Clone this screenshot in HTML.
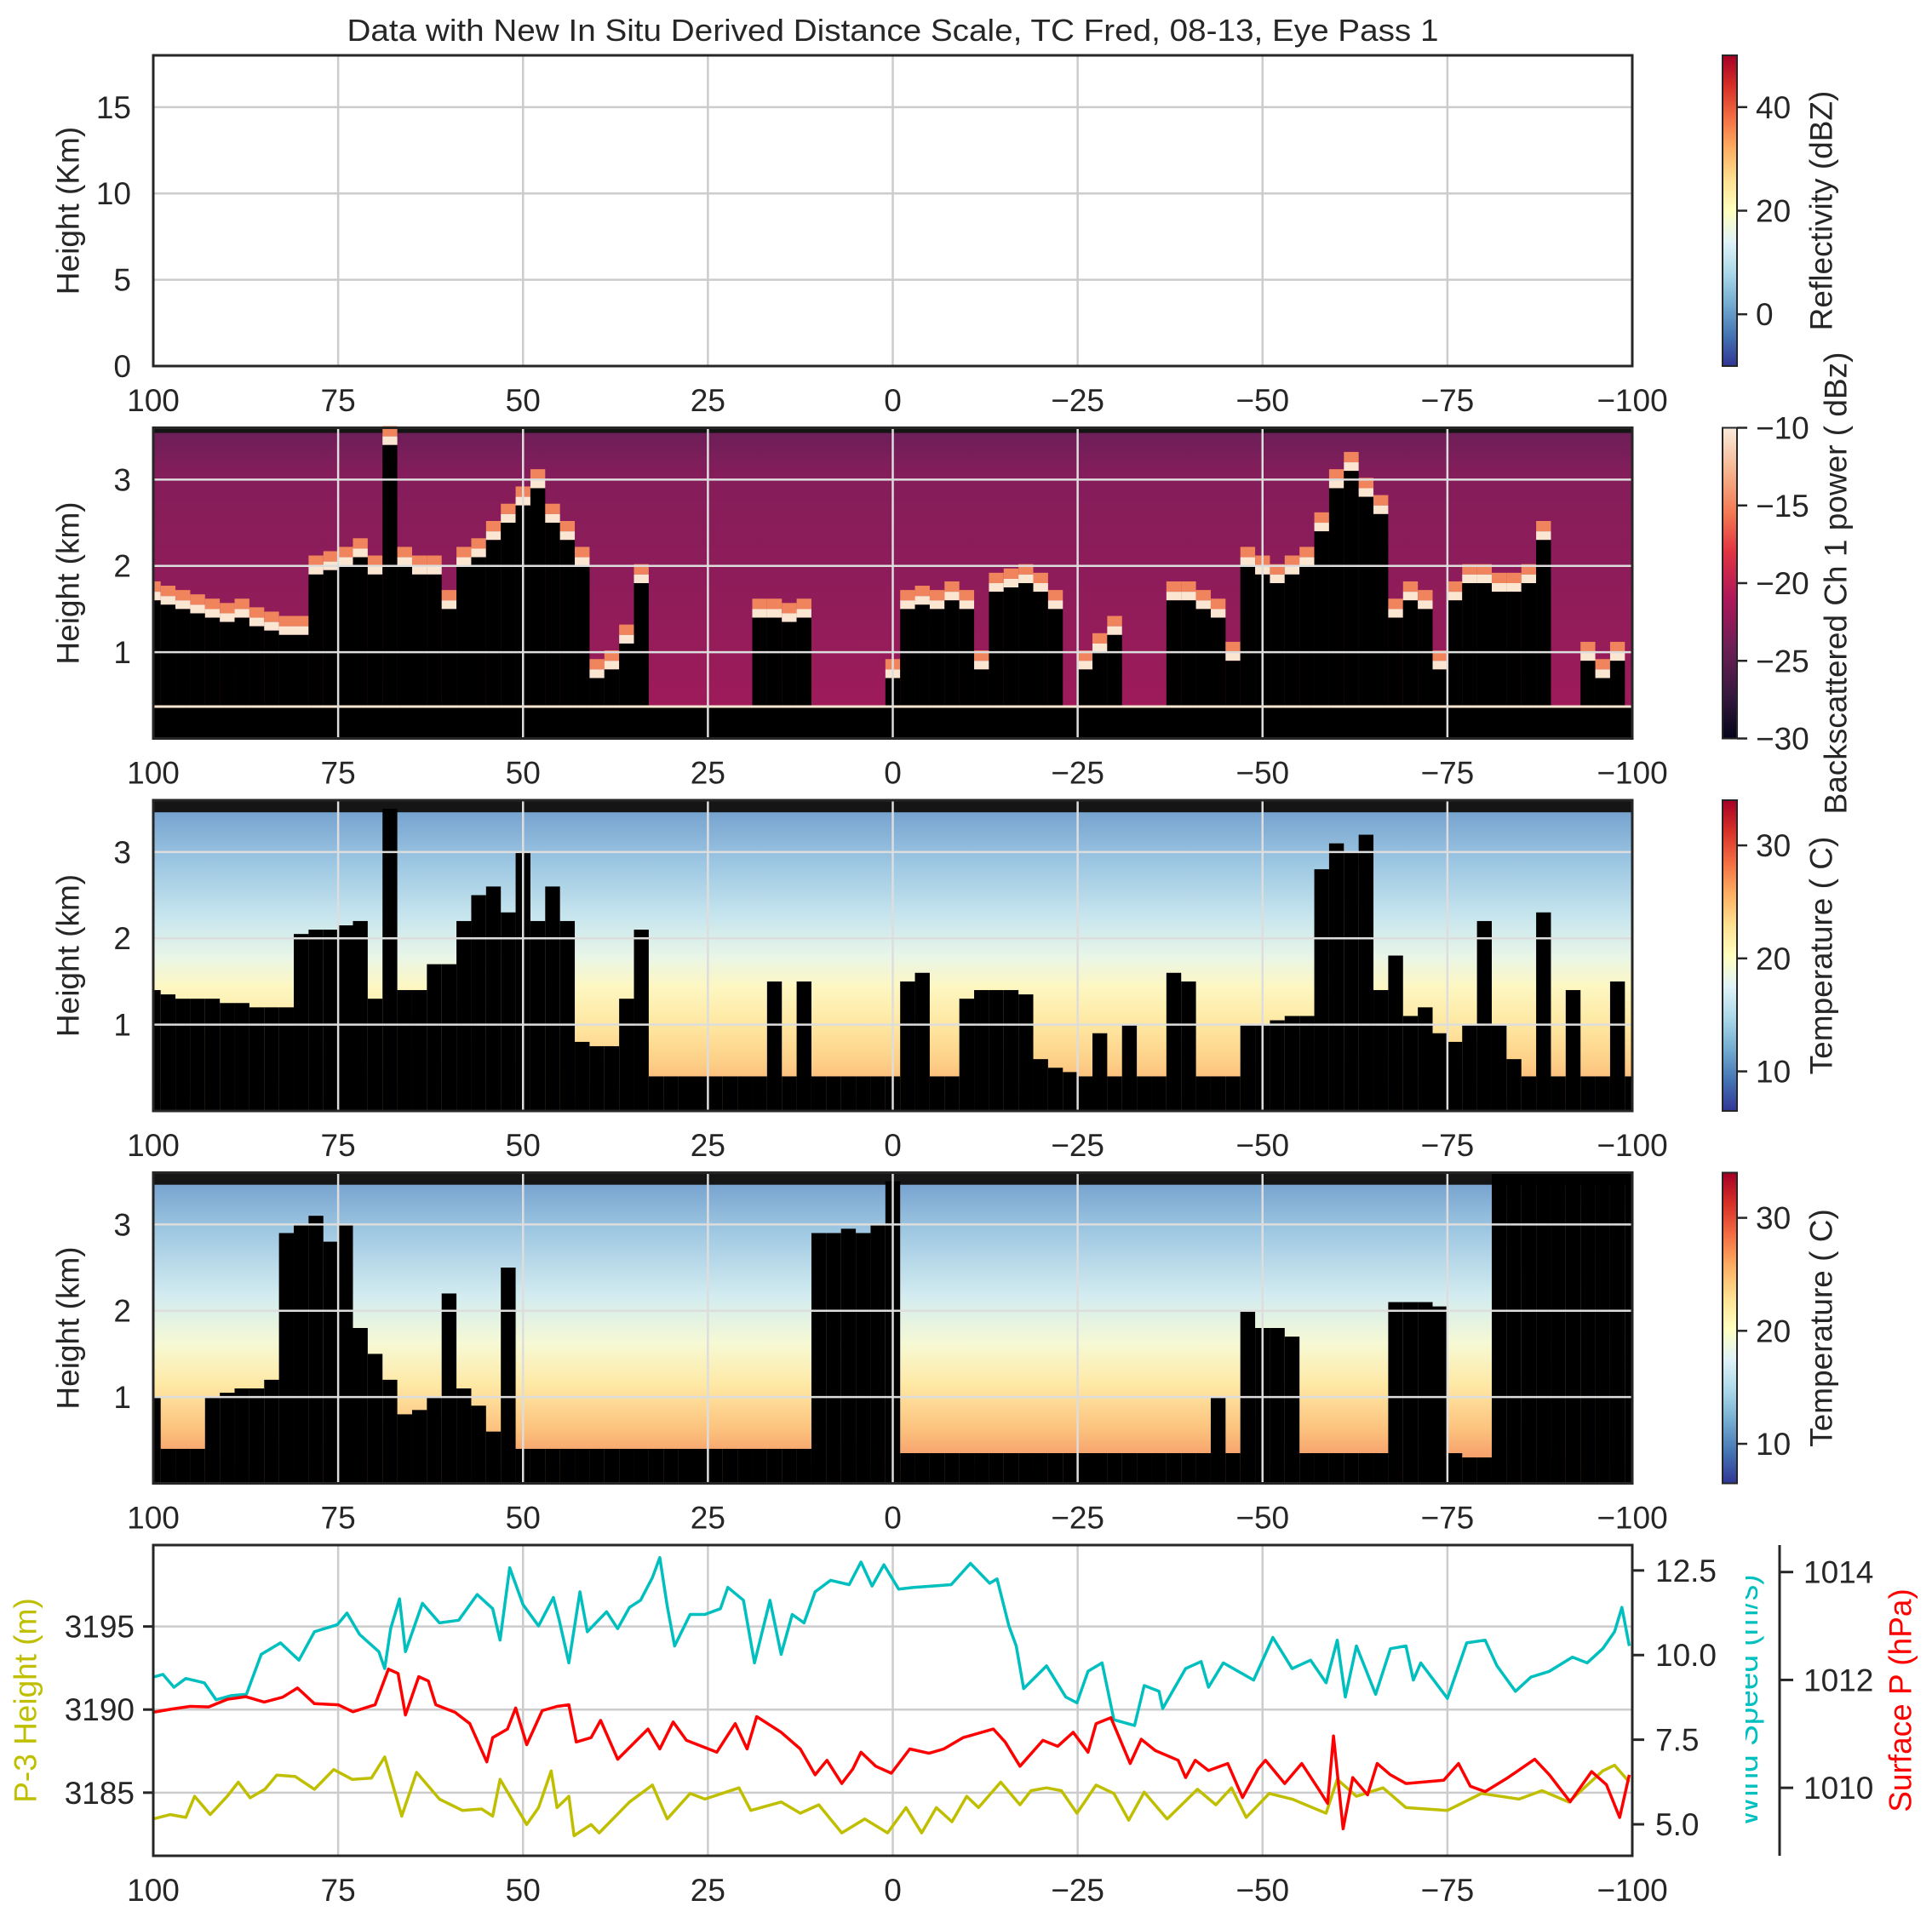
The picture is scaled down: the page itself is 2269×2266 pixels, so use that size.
<!DOCTYPE html>
<html><head><meta charset="utf-8"><style>
html,body{margin:0;padding:0;background:#fff}
svg text{font-family:"Liberation Sans",Arial,sans-serif;fill:#262626}
</style></head><body>
<svg id="fig" width="2269" height="2261" viewBox="0 0 2269 2261" xmlns="http://www.w3.org/2000/svg">
<defs>
<linearGradient id="rdylbu" x1="0" y1="1" x2="0" y2="0">
<stop offset="0" stop-color="#313695"/><stop offset="0.1" stop-color="#4575b4"/><stop offset="0.2" stop-color="#74add1"/><stop offset="0.3" stop-color="#abd9e9"/><stop offset="0.4" stop-color="#e0f3f8"/><stop offset="0.5" stop-color="#ffffbf"/><stop offset="0.6" stop-color="#fee090"/><stop offset="0.7" stop-color="#fdae61"/><stop offset="0.8" stop-color="#f46d43"/><stop offset="0.9" stop-color="#d73027"/><stop offset="1" stop-color="#a50026"/>
</linearGradient>
<linearGradient id="rocket" x1="0" y1="1" x2="0" y2="0">
<stop offset="0" stop-color="#03051a"/><stop offset="0.14" stop-color="#36193e"/><stop offset="0.3" stop-color="#701f57"/><stop offset="0.45" stop-color="#ae1759"/><stop offset="0.6" stop-color="#e13342"/><stop offset="0.72" stop-color="#f37651"/><stop offset="0.86" stop-color="#f6b48e"/><stop offset="1" stop-color="#faebdd"/>
</linearGradient>
<linearGradient id="bg2" x1="0" y1="0" x2="0" y2="1">
<stop offset="0" stop-color="#6a1f58"/><stop offset="0.15" stop-color="#841d5a"/><stop offset="0.6" stop-color="#921c5a"/><stop offset="1" stop-color="#a21a5b"/>
</linearGradient>
<linearGradient id="bg3" x1="0" y1="0" x2="0" y2="1">
<stop offset="0" stop-color="#6e9bcb"/><stop offset="0.2" stop-color="#9cc6e2"/><stop offset="0.38" stop-color="#c8e6ee"/><stop offset="0.5" stop-color="#e8f5e8"/><stop offset="0.6" stop-color="#fdf7c2"/><stop offset="0.72" stop-color="#fee8a2"/><stop offset="0.84" stop-color="#fdd088"/><stop offset="1" stop-color="#f8a067"/>
</linearGradient>
<linearGradient id="bg4" x1="0" y1="0" x2="0" y2="1">
<stop offset="0" stop-color="#6e9bcb"/><stop offset="0.2" stop-color="#a2cae3"/><stop offset="0.4" stop-color="#d3ecf0"/><stop offset="0.55" stop-color="#f6f9d4"/><stop offset="0.68" stop-color="#fee9a6"/><stop offset="0.82" stop-color="#fcc47f"/><stop offset="1" stop-color="#f2805a"/>
</linearGradient>
<clipPath id="windclip"><rect x="2050" y="1815" width="30" height="365"/></clipPath>
</defs>
<g id="root"></g>
</svg>
<script>
// ---------- data ----------
const distances = [];
for (let d = 100; d >= -100; d -= 2) distances.push(d);
const xTicks = [100, 75, 50, 25, 0, -25, -50, -75, -100];
const xTickLabels = ["100", "75", "50", "25", "0", "\u221225", "\u221250", "\u221275", "\u2212100"];
const lidarTops = [1.7,1.65,1.6,1.55,1.5,1.45,1.5,1.4,1.35,1.3,1.3,2.0,2.05,2.1,2.2,2.0,3.5,2.1,2.0,2.0,1.6,2.1,2.2,2.4,2.6,2.8,3.0,2.6,2.4,2.1,0.8,0.9,1.2,1.9,0,0,0,0,0,0,0,1.5,1.5,1.45,1.5,0,0,0,0,0,0.8,1.6,1.65,1.6,1.7,1.6,0.9,1.8,1.85,1.9,1.8,1.6,0,0.9,1.1,1.3,0,0,0,1.7,1.7,1.6,1.5,1.0,2.1,2.0,1.9,2.0,2.1,2.5,3.0,3.2,2.9,2.7,1.5,1.7,1.6,0.9,1.7,1.9,1.9,1.8,1.8,1.9,2.4,0,0,1.0,0.8,1.0,0];
const tempTops1 = [1.4,1.35,1.3,1.3,1.3,1.25,1.25,1.2,1.2,1.2,2.05,2.1,2.1,2.15,2.2,1.3,3.5,1.4,1.4,1.7,1.7,2.2,2.5,2.6,2.3,3.0,2.2,2.6,2.2,0.8,0.75,0.75,1.3,2.1,0.4,0.4,0.4,0.4,0.4,0.4,0.4,0.4,1.5,0.4,1.5,0.4,0.4,0.4,0.4,0.4,0.4,1.5,1.6,0.4,0.4,1.3,1.4,1.4,1.4,1.35,0.6,0.5,0.45,0.4,0.9,0.4,1.0,0.4,0.4,1.6,1.5,0.4,0.4,0.4,1.0,1.0,1.05,1.1,1.1,2.8,3.1,3.0,3.2,1.4,1.8,1.1,1.2,0.9,0.8,1.0,2.2,1.0,0.6,0.4,2.3,0.4,1.4,0.4,0.4,1.5,0.4];
const tempTops2 = [1.0,0.4,0.4,0.4,1.0,1.05,1.1,1.1,1.2,2.9,3.0,3.1,2.8,3.0,1.8,1.5,1.2,0.8,0.85,1.0,2.2,1.1,0.9,0.6,2.5,0.4,0.4,0.4,0.4,0.4,0.4,0.4,0.4,0.4,0.4,0.4,0.4,0.4,0.4,0.4,0.4,0.4,0.4,0.4,0.4,2.9,2.9,2.95,2.9,3.0,3.5,0.35,0.35,0.35,0.35,0.35,0.35,0.35,0.35,0.35,0.35,0.35,0.35,0.35,0.35,0.35,0.35,0.35,0.35,0.35,0.35,0.35,1.0,0.35,2.0,1.8,1.8,1.7,0.35,0.35,0.35,0.35,0.35,0.35,2.1,2.1,2.1,2.05,0.35,0.3,0.3,3.6,3.6,3.6,3.6,3.6,3.6,3.6,3.6,3.6,3.6];

const windDist = [100,98.7,97.2,95.6,93.1,91.5,89.5,87.4,85.4,82.8,80.3,78.2,75.1,73.8,72.1,69.5,68.7,67.9,66.7,65.9,63.6,61.3,58.7,56.2,54.1,53.1,51.8,50,47.9,45.9,45.1,43.8,42.3,41.3,38.7,37.2,35.6,34.1,32.5,31.5,30.5,29.5,27.4,25.4,23.3,22.3,20.2,18.7,16.6,15.1,13.6,12,10.5,8.4,5.9,4.3,2.8,1.2,-0.8,-2.8,-5.4,-7.9,-10.5,-13.1,-14.1,-15.7,-16.7,-17.7,-20.8,-23.4,-24.9,-26.4,-28.3,-29.9,-32.7,-34,-36,-36.5,-39.6,-41.7,-42.7,-44.7,-48.8,-51.4,-54,-56.5,-58.6,-60.1,-61.2,-62.7,-65.3,-67.3,-69.4,-70.4,-71.4,-75,-77.6,-80.1,-81.7,-84.2,-86.3,-88.8,-91.9,-93.9,-96,-97.6,-98.6,-99.6];
const windSpeed = [9.35,9.43,9.05,9.31,9.18,8.68,8.80,8.84,10.02,10.36,9.85,10.69,10.90,11.24,10.61,10.10,9.60,10.78,11.66,10.10,11.53,10.95,11.03,11.79,11.37,10.44,12.58,11.49,10.86,11.70,11.03,9.77,11.87,10.69,11.28,10.78,11.41,11.62,12.29,12.88,11.45,10.27,11.20,11.20,11.37,12.00,11.62,9.77,11.62,10.02,11.20,10.95,11.87,12.21,12.08,12.75,12.04,12.67,11.95,12.0,12.04,12.08,12.71,12.12,12.25,10.86,10.27,9.01,9.68,8.76,8.59,9.52,9.77,8.09,7.92,9.10,8.93,8.42,9.60,9.81,9.05,9.77,9.26,10.52,9.60,9.85,9.18,10.44,8.76,10.27,8.84,10.19,10.27,9.26,9.77,8.72,10.36,10.44,9.68,8.93,9.35,9.52,9.94,9.77,10.19,10.69,11.41,10.27];

const presDist = [100,97.5,95,92.5,90,87.5,85,82.5,80.5,78.2,75,73,70,68.2,66.9,65.9,64.1,62.8,61.8,59.2,57.2,54.9,54.1,52.1,51,49.5,47.4,45.4,43.8,42.8,40.8,39.5,37.2,33.1,31.5,29.7,27.9,23.8,21.3,19.7,18.4,15.1,12.5,10.5,8.9,6.9,5.4,4.3,2.3,0.2,-2.3,-4.9,-6.9,-9.5,-13.6,-15.2,-17.2,-20.3,-22.3,-24.4,-26.4,-27.5,-29.5,-32.1,-33.6,-35.5,-38.6,-39.6,-40.9,-42.7,-45.3,-47.3,-49.4,-50.4,-53,-55.3,-57.6,-58.8,-59.6,-60.9,-62.2,-64.2,-65.5,-67.3,-69.4,-74.5,-76.5,-78.1,-80.1,-83.2,-86.8,-88.8,-91.6,-94.5,-96.5,-98.3,-99.6];
const pressure = [1011.40,1011.46,1011.51,1011.50,1011.64,1011.69,1011.59,1011.68,1011.85,1011.56,1011.54,1011.41,1011.54,1012.20,1012.12,1011.35,1012.06,1011.98,1011.54,1011.40,1011.19,1010.48,1010.93,1011.09,1011.48,1010.80,1011.43,1011.51,1011.54,1010.85,1010.93,1011.25,1010.53,1011.09,1010.72,1011.22,1010.88,1010.66,1011.19,1010.72,1011.32,1011.03,1010.72,1010.24,1010.51,1010.08,1010.35,1010.66,1010.40,1010.27,1010.72,1010.64,1010.72,1010.93,1011.09,1010.85,1010.40,1010.88,1010.77,1011.03,1010.66,1011.19,1011.30,1010.45,1010.90,1010.69,1010.51,1010.19,1010.51,1010.32,1010.45,1009.82,1010.35,1010.51,1010.08,1010.45,1009.97,1009.71,1010.96,1009.24,1010.19,1009.87,1010.45,1010.24,1010.08,1010.14,1010.45,1010.03,1009.93,1010.19,1010.53,1010.24,1009.74,1010.30,1010.06,1009.45,1010.24];

const heightDist = [100,97.7,95.6,94.4,92.3,90,88.5,86.9,84.9,83.3,80.8,78.2,75.6,73.1,70.5,68.7,66.4,64.4,61.3,58.2,55.6,54.1,53.1,49.5,47.9,46.2,45.4,43.8,43.1,40.8,39.7,35.6,32.5,30.5,27.4,25.4,20.8,19.2,15.1,12.5,10,6.9,3.8,0.7,-1.8,-3.9,-5.9,-8,-10,-11.6,-14.6,-17.2,-18.7,-20.8,-22.8,-24.9,-27.5,-29.9,-31.9,-34,-37.1,-41.2,-43.7,-45.8,-47.8,-50.9,-54,-58.6,-60.1,-62.7,-66.3,-69.4,-75,-79.6,-84.7,-87.8,-91.4,-96,-97.6,-99.6];
const p3Height = [3183.42,3183.68,3183.51,3184.78,3183.68,3184.78,3185.63,3184.69,3185.20,3186.05,3185.97,3185.20,3186.39,3185.80,3185.88,3187.15,3183.59,3186.22,3184.61,3183.93,3184.02,3183.59,3185.80,3183.08,3184.10,3186.31,3184.10,3184.78,3182.41,3183.08,3182.58,3184.44,3185.46,3183.42,3184.95,3184.61,3185.29,3183.93,3184.44,3183.76,3184.27,3182.58,3183.42,3182.58,3184.10,3182.58,3184.10,3183.25,3184.78,3184.10,3185.63,3184.27,3185.12,3185.29,3185.12,3183.76,3185.46,3184.95,3183.34,3185.03,3183.42,3185.20,3184.27,3185.29,3183.51,3184.95,3184.61,3183.76,3185.80,3184.78,3185.29,3184.10,3183.93,3184.95,3184.61,3185.12,3184.44,3186.31,3186.65,3185.63];

// ---------- layout ----------
const NS = "http://www.w3.org/2000/svg";
const root = document.getElementById("root");
const L = 180, R = 1917, H = 365, FS = 37;
const tops = [65, 502.5, 940, 1377.5, 1815];
const X = d => (L + R) / 2 - d * (R - L) / 200;
function mk(tag, attrs, parent) {
  const e = document.createElementNS(NS, tag);
  for (const k in attrs) e.setAttribute(k, attrs[k]);
  (parent || root).appendChild(e);
  return e;
}
function txt(s, x, y, size, anchor, parent, extra) {
  const t = mk("text", Object.assign({x: x, y: y, "font-size": size, "text-anchor": anchor || "middle"}, extra || {}), parent);
  t.textContent = s;
  return t;
}
function yScale(T, lo, hi) { return v => T + H - (v - lo) / (hi - lo) * H; }

const title = txt("Data with New In Situ Derived Distance Scale, TC Fred, 08-13, Eye Pass 1", 1048.5, 48, 36, "middle", root, {textLength: 1282, lengthAdjust: "spacingAndGlyphs"});



function xAxis(T, gridColor, gp) {
  xTicks.forEach((d, i) => {
    const gl = mk("line", {x1: X(d), x2: X(d), y1: T, y2: T + H, stroke: gridColor, "stroke-width": 2.5}, gp);
    
    
    const tl = txt(xTickLabels[i], X(d), T + H + 53, FS);
    
    
  });
}
function yAxis(T, ys, ticks, labels, gridColor, gp, tickMarks) {
  ticks.forEach((v, i) => {
    const gl = mk("line", {x1: L, x2: R, y1: ys(v), y2: ys(v), stroke: gridColor, "stroke-width": 2.5}, gp);
    
    
    if (tickMarks) mk("line", {x1: L - 12, x2: L, y1: ys(v), y2: ys(v), stroke: "#262626", "stroke-width": 3}, gp);
    const tl = txt(labels[i], L - (tickMarks ? 22 : 26), ys(v) + 13, FS, "end");
    
    
  });
}
function frame(T) {
  const f = mk("rect", {x: L, y: T, width: R - L, height: H, fill: "none", stroke: "#262626", "stroke-width": 3});
  
  
}
function ylabel(s, T, color, x) {
  const cx = x || 80, cy = T + H / 2;
  const t = txt(s, cx, cy, FS, "middle", root, {transform: "rotate(-90 " + cx + " " + cy + ")", "dominant-baseline": "central"});
  if (color) t.setAttribute("style", "fill:" + color);
  
  
  return t;
}
function colorbar(T, grad, lo, hi, ticks, labels, label, lx) {
  const g = mk("g", {});
  
  
  mk("rect", {x: 2023, y: T, width: 17, height: H, fill: "url(#" + grad + ")", stroke: "#262626", "stroke-width": 2}, g);
  ticks.forEach((v, i) => {
    const y = T + H - (v - lo) / (hi - lo) * H;
    mk("line", {x1: 2040, x2: 2052, y1: y, y2: y, stroke: "#262626", "stroke-width": 2.5}, g);
    txt(labels[i], 2062, y + 13, FS, "start", g);
  });
  const cx = lx || 2139, cy = T + H / 2;
  const t = txt(label, cx, cy, FS, "middle", g, {transform: "rotate(-90 " + cx + " " + cy + ")", "dominant-baseline": "central"});
  
  
}

// ---------- panel 1 ----------
(function () {
  const T = tops[0], g = mk("g", {});
  
  
  const ys = yScale(T, 0, 18);
  xAxis(T, "#cccccc", g);
  yAxis(T, ys, [0, 5, 10, 15], ["0", "5", "10", "15"], "#cccccc", g);
  frame(T);
  ylabel("Height (Km)", T);
  colorbar(T, "rdylbu", -10, 50, [0, 20, 40], ["0", "20", "40"], "Reflectivity (dBZ)");
})();

// ---------- heat panels ----------
function heatPanel(T, bgId, topsArr, name, surface, lidar, band) {
  const g = mk("g", {});
  
  
  const ys = yScale(T, 0, 3.6);
  const bg = mk("rect", {x: L, y: T, width: R - L, height: H, fill: "url(#" + bgId + ")"}, g);
  
  
  mk("rect", {x: L, y: T, width: R - L, height: ys(band) - T, fill: "#151515"}, g);
  const w = (R - L) / 200 * 2;
  distances.forEach((d, i) => {
    const v = topsArr[i];
    const x = X(d) - w / 2;
    const x0 = Math.max(L, x), x1 = Math.min(R, x + w);
    if (v > 0) {
      if (lidar) {
        const halo = mk("rect", {x: x0, y: ys(v + 0.12), width: x1 - x0, height: ys(v) - ys(v + 0.12), fill: "#f0845c"}, g);
        
        
        const hi = mk("rect", {x: x0, y: ys(v), width: x1 - x0, height: ys(v - 0.1) - ys(v), fill: "#fbe6d2"}, g);
        
        
        const c = mk("rect", {x: x0, y: ys(v - 0.1), width: x1 - x0, height: T + H - ys(v - 0.1), fill: "#000"}, g);
        
        
      } else {
        const c = mk("rect", {x: x0, y: ys(v), width: x1 - x0, height: T + H - ys(v), fill: "#000"}, g);
        
        
      }
    }
  });
  if (surface) {
    mk("rect", {x: L, y: ys(0.36), width: R - L, height: T + H - ys(0.36), fill: "#000"}, g);
    mk("line", {x1: L, x2: R, y1: ys(0.37), y2: ys(0.37), stroke: "#fbe6d2", "stroke-width": 3}, g);
  }
  xAxis(T, "#dddddd", g);
  yAxis(T, ys, [1, 2, 3], ["1", "2", "3"], "#dddddd", g);
  frame(T);
}
heatPanel(tops[1], "bg2", lidarTops, "lidar-panel", true, true, 3.54);
ylabel("Height (km)", tops[1]);
colorbar(tops[1], "rocket", -30, -10, [-30, -25, -20, -15, -10], ["\u221230", "\u221225", "\u221220", "\u221215", "\u221210"], "Backscattered Ch 1 power ( dBz)", 2156);
heatPanel(tops[2], "bg3", tempTops1, "temperature-panel-1", false, false, 3.46);
ylabel("Height (km)", tops[2]);
colorbar(tops[2], "rdylbu", 6.5, 34, [10, 20, 30], ["10", "20", "30"], "Temperature ( C)");
heatPanel(tops[3], "bg4", tempTops2, "temperature-panel-2", false, false, 3.46);
ylabel("Height (km)", tops[3]);
colorbar(tops[3], "rdylbu", 6.5, 34, [10, 20, 30], ["10", "20", "30"], "Temperature ( C)");

// ---------- panel 5 ----------
(function () {
  const T = tops[4];
  const g = mk("g", {});
  
  
  const yH = yScale(T, 3181.2, 3199.9);
  const yW = yScale(T, 4.07, 13.25);
  const yP = yScale(T, 1008.74, 1014.5);
  xAxis(T, "#cccccc", g);
  yAxis(T, yH, [3185, 3190, 3195], ["3185", "3190", "3195"], "#cccccc", g, true);
  function line(dist, vals, ys, color, name) {
    const pts = dist.map((d, i) => X(d).toFixed(1) + "," + ys(vals[i]).toFixed(1)).join(" ");
    const p = mk("polyline", {points: pts, fill: "none", stroke: color, "stroke-width": 3.5, "stroke-linejoin": "round"}, g);
    
    
  }
  line(windDist, windSpeed, yW, "#00bfbf", "wind-speed-line");
  line(heightDist, p3Height, yH, "#bfbf00", "p3-height-line");
  line(presDist, pressure, yP, "#ff0000", "surface-pressure-line");
  frame(T);
  ylabel("P-3 Height (m)", T, "#bfbf00", 30);
  [5.0, 7.5, 10.0, 12.5].forEach(v => {
    mk("line", {x1: R, x2: R + 14, y1: yW(v), y2: yW(v), stroke: "#262626", "stroke-width": 3}, g);
    const t = txt(v.toFixed(1), R + 27, yW(v) + 13, FS, "start", g);
    
    
  });
  const cg = mk("g", {"clip-path": "url(#windclip)"});
  const wl = txt("Wind Speed (m/s)", 2064, T + H / 2, FS, "middle", cg, {transform: "rotate(-90 2064 " + (T + H / 2) + ")", style: "fill:#00bfbf"});
  
  
  mk("line", {x1: 2090, x2: 2090, y1: T, y2: T + H, stroke: "#262626", "stroke-width": 3}, g);
  [1010, 1012, 1014].forEach(v => {
    mk("line", {x1: 2090, x2: 2106, y1: yP(v), y2: yP(v), stroke: "#262626", "stroke-width": 3}, g);
    const t = txt(String(v), 2118, yP(v) + 13, FS, "start", g);
    
    
  });
  ylabel("Surface P (hPa)", T, "#ff0000", 2232);
})();
</script>
</body></html>
